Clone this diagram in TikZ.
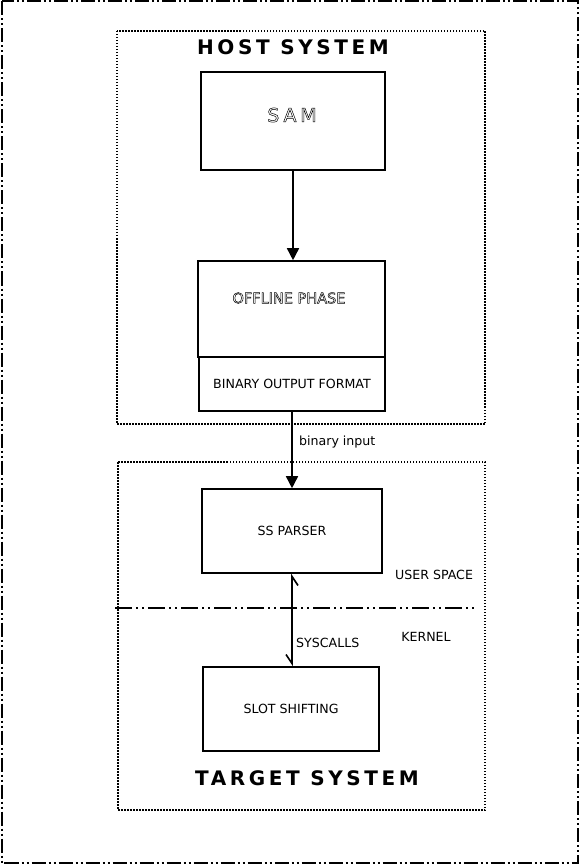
\documentclass[tikz,border=0pt]{standalone}
\usepackage{fontspec}
\setmainfont{DejaVu Sans}
\usetikzlibrary{arrows.meta}

\newcommand{\outl}[1]{\special{pdf:literal 1 Tr 0.5 w}#1\special{pdf:literal 0 Tr}}

\begin{document}
\begin{tikzpicture}[x=1pt,y=1pt,
 box/.style={draw,line width=1.6pt,inner sep=0pt},
 txt/.style={font=\fontsize{12.6}{15}\selectfont},
 title/.style={font=\fontsize{20}{24}\selectfont\bfseries\addfontfeature{LetterSpace=18}},
 flow/.style={line width=1.6pt,-{Triangle[width=12pt,length=12pt]}},
 frame/.style={line width=2pt,dash pattern=on 14pt off 3pt on 2pt off 3pt on 2pt off 3pt},
 zone/.style={line width=1.5pt,dash pattern=on 1.5pt off 1.5pt}]

\useasboundingbox (0,0) rectangle (579,-866);
\draw[frame] (1.5,-1.5) rectangle (577.5,-862.5);

%host
\draw[zone] (117,-31) rectangle (485,-424);
\node[title] (hosttitle) at (293,-47) {HOST SYSTEM};
\node[box,minimum width=184pt,minimum height=98pt] (sam) at (293,-121) {};
\node[font=\fontsize{19}{22}\selectfont\addfontfeature{LetterSpace=20}] (samtxt) at (292,-115) {\outl{SAM}};
\node[box,minimum width=187pt,minimum height=96pt] (offline) at (291.5,-309) {};
\node[font=\fontsize{14.5}{17}\selectfont] (offlinetxt) at (289,-298) {\outl{OFFLINE PHASE}};
\node[box,txt,minimum width=186pt,minimum height=54pt] (binout) at (292,-384) {BINARY OUTPUT FORMAT};
\draw[flow] (sam) -- (sam |- offline.north);

%target
\draw[zone] (118,-462) rectangle (485,-810);
\node[box,txt,minimum width=180pt,minimum height=84pt] (parser) at (292,-531) {SS PARSER};
\node[box,txt,minimum width=176pt,minimum height=84pt] (slot) at (291,-709) {SLOT SHIFTING};
\node[title] (targettitle) at (307,-778) {TARGET SYSTEM};
\draw[flow] (binout) -- (binout |- parser.north)
 node[txt,pos=0.4,anchor=west,xshift=3pt] (bininput) {binary input};

%user space / kernel
\coordinate (sepleft) at (115,-608);
\coordinate (sepright) at (477,-608);
\draw[line width=1.6pt,dash pattern=on 17pt off 4pt on 2pt off 4pt on 2pt off 4pt] (sepleft) -- (sepright);
\node[txt] (userspace) at (434,-575) {USER SPACE};
\node[txt] (kernel) at (426,-637) {KERNEL};
\draw[line width=1.6pt,{Straight Barb[right,length=9pt,width=12pt]}-{Straight Barb[right,length=9pt,width=12pt]}]
 (parser.south) -- (parser.south |- slot.north)
 node[txt,pos=0.75,anchor=west,xshift=0pt] (syscalls) {SYSCALLS};

\end{tikzpicture}
\end{document}
